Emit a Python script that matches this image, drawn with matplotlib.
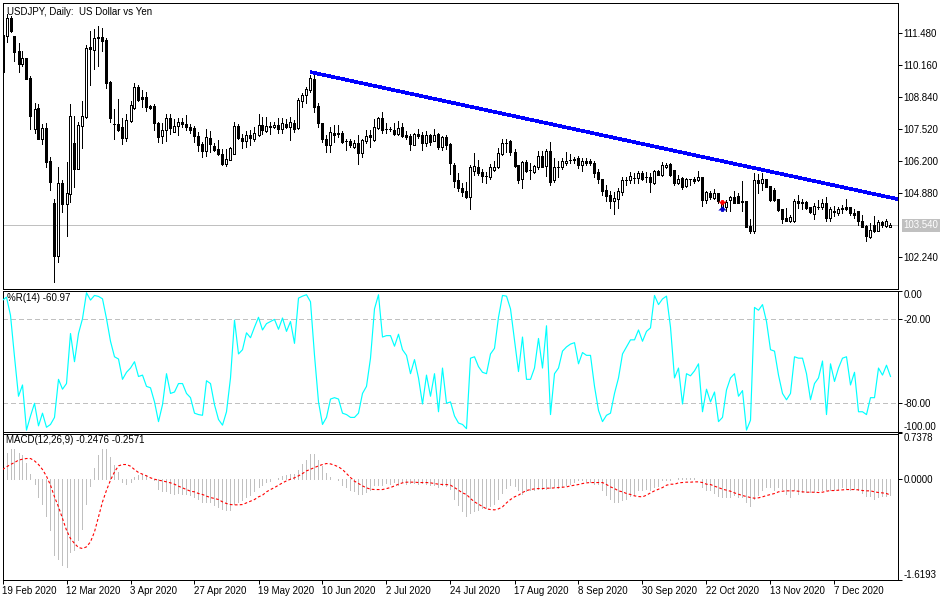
import numpy as np
import matplotlib
matplotlib.use("Agg")
import matplotlib.pyplot as plt
from matplotlib.path import Path

# USDJPY daily candles
opens = [111.40,111.36,112.10,111.36,110.74,110.20,110.45,109.62,107.52,108.39,
107.11,107.56,106.20,104.47,102.28,105.29,104.43,104.84,106.94,105.87,
107.64,108.01,110.90,110.78,111.31,111.31,111.19,109.46,107.73,107.73,
107.60,107.15,107.85,108.39,109.25,108.84,108.84,108.47,108.47,107.77,
107.23,107.48,107.97,107.39,107.64,107.81,107.73,107.60,107.56,107.23,
106.90,106.61,107.15,106.82,106.69,106.49,106.07,106.24,106.49,107.64,
107.15,107.02,107.27,107.11,107.27,107.68,107.44,107.64,107.60,107.68,
107.52,107.73,107.60,107.77,107.56,108.67,108.92,109.13,109.58,108.47,
107.77,107.11,106.86,107.35,107.35,107.35,107.02,107.02,106.78,106.94,
106.53,107.02,107.27,107.07,107.56,107.97,107.52,107.52,107.48,107.31,
107.60,107.27,107.23,106.86,107.31,107.27,106.94,107.27,107.02,107.31,
106.78,107.19,106.90,106.03,105.42,105.09,104.96,104.71,105.79,105.95,
105.75,105.58,105.54,105.83,105.95,106.49,106.94,107.02,106.57,106.03,
105.46,106.16,105.83,105.75,105.95,106.41,105.99,106.61,105.42,105.95,
105.95,106.12,106.24,106.28,106.32,106.03,106.20,106.20,106.12,105.75,
105.46,105.00,104.80,104.55,104.63,104.92,105.42,105.42,105.50,105.50,
105.70,105.54,105.54,105.29,105.79,105.62,105.95,106.07,105.83,105.29,
105.50,105.17,105.46,105.46,105.42,105.54,104.59,104.88,104.67,104.88,
104.30,104.30,104.59,104.71,104.76,104.55,104.55,103.52,103.31,105.42,
105.29,105.46,105.17,105.00,104.63,104.22,103.85,103.72,103.72,104.55,
104.51,104.51,104.30,104.01,104.30,104.30,104.47,103.85,104.14,104.05,
104.26,104.30,104.30,104.05,104.14,103.72,103.52,103.07,103.56,103.31,103.68,103.52,103.48]
highs = [111.40,112.26,112.18,111.36,111.07,110.74,110.45,109.70,108.59,108.55,
107.73,107.77,106.36,104.63,105.95,105.42,106.16,108.55,108.06,107.81,
108.67,110.98,111.56,111.64,111.77,111.69,111.27,109.50,108.34,108.76,
107.97,108.14,108.67,109.42,109.33,109.13,109.05,108.51,108.55,107.81,
107.77,108.14,108.14,107.93,107.97,107.97,108.10,107.73,107.64,107.39,
106.98,107.52,107.44,106.94,107.07,106.69,106.69,106.78,107.81,107.73,
107.31,107.44,107.48,107.60,108.14,108.01,108.01,107.81,107.81,107.97,
107.97,107.93,108.01,107.89,108.80,109.00,109.25,109.75,109.75,108.59,
107.77,107.27,107.60,107.68,107.68,107.44,107.11,107.11,107.07,107.27,
107.11,107.48,107.48,107.93,108.01,108.22,107.77,107.60,107.77,107.85,
107.77,107.44,107.31,107.35,107.52,107.39,107.44,107.31,107.52,107.35,
107.23,107.27,106.94,106.12,105.70,105.29,105.33,106.03,106.53,106.24,
105.87,105.75,106.07,106.20,106.74,107.11,107.11,107.07,106.69,106.03,
106.20,106.24,106.12,106.03,106.61,106.61,106.69,106.98,106.32,106.20,
106.32,106.57,106.49,106.36,106.41,106.32,106.32,106.28,106.20,105.87,
105.46,105.21,104.96,104.92,105.09,105.54,105.54,105.75,105.70,105.79,
105.79,105.75,105.70,105.83,105.83,106.16,106.12,106.12,105.83,105.62,
105.54,105.50,105.46,105.54,105.79,105.54,104.96,104.96,105.04,104.88,
104.51,104.59,104.76,104.96,104.88,105.37,104.55,103.81,105.70,105.66,
105.70,105.46,105.17,105.09,104.63,104.22,104.26,103.97,104.63,104.80,
104.63,104.55,104.30,104.47,104.59,104.63,104.71,104.30,104.34,104.30,
104.38,104.63,104.30,104.22,104.14,103.97,103.56,103.64,103.93,103.77,103.72,103.81,103.64]
lows = [109.87,111.11,111.52,110.32,109.87,110.12,109.58,107.52,107.35,107.11,
106.90,105.95,105.00,101.21,102.03,104.10,103.11,104.51,105.13,105.87,
106.74,107.97,109.33,109.99,110.12,110.74,109.21,107.81,107.11,107.44,
106.90,107.02,107.81,108.34,108.67,108.43,108.26,108.34,107.48,106.98,
106.94,107.02,107.31,107.39,107.27,107.60,107.48,107.35,106.98,106.61,
106.36,106.41,106.57,106.61,106.45,106.03,105.99,106.24,106.49,107.11,
106.74,106.78,106.86,107.02,107.23,107.31,107.39,107.31,107.56,107.35,
107.35,107.56,107.07,107.39,107.52,108.43,108.59,109.05,108.22,107.60,
106.98,106.57,106.57,106.98,107.19,106.94,106.65,106.78,106.74,106.07,
106.36,106.94,106.78,107.02,107.52,107.35,107.35,107.44,107.27,107.27,
107.19,107.11,106.65,106.86,107.15,106.65,106.82,106.86,107.02,106.69,
106.65,106.69,105.66,105.13,104.96,104.76,104.67,104.22,105.62,105.62,
105.33,105.29,105.46,105.79,105.91,106.45,106.57,106.45,105.95,105.29,
105.09,105.75,105.46,105.70,105.87,105.95,105.58,105.21,105.33,105.54,
105.87,106.03,106.12,106.12,105.91,105.79,106.03,106.03,105.54,105.29,
104.80,104.55,104.26,104.01,104.26,104.80,105.21,105.29,105.29,105.29,
105.42,105.33,104.92,105.25,105.62,105.58,105.91,105.58,105.21,105.25,
105.04,105.13,105.21,105.29,105.37,104.34,104.47,104.63,104.63,104.47,
104.30,104.14,104.14,104.47,104.47,104.14,103.48,103.23,103.23,104.88,
105.00,105.13,104.55,104.55,104.14,103.64,103.72,103.68,103.68,104.26,
104.22,104.22,104.05,103.81,104.22,104.22,103.72,103.72,103.93,103.97,
104.05,104.18,103.97,103.85,103.56,103.48,102.90,103.02,103.27,103.31,103.48,103.48,103.48]
closes = [109.87,112.10,111.56,110.69,110.20,110.45,109.58,108.06,108.34,107.11,
107.56,106.16,105.33,102.28,105.29,104.43,104.88,108.06,105.87,107.68,
108.06,110.86,110.82,111.27,111.27,111.15,109.42,107.97,107.73,107.48,
107.15,107.89,108.51,109.25,108.72,108.76,108.43,108.39,107.77,107.19,
107.48,107.97,107.56,107.64,107.81,107.73,107.60,107.48,107.23,106.86,
106.61,107.19,106.90,106.65,106.49,106.07,106.28,106.74,107.64,107.15,
107.02,107.27,107.15,107.35,107.68,107.48,107.64,107.60,107.68,107.52,
107.77,107.60,107.81,107.52,108.72,108.92,109.17,109.62,108.43,107.77,
107.11,106.86,107.39,107.27,107.31,106.98,107.02,106.86,106.94,106.53,
107.07,107.23,107.19,107.60,107.97,107.48,107.52,107.52,107.31,107.56,
107.23,107.19,106.90,107.31,107.23,106.94,107.27,106.98,107.27,106.78,
107.19,106.86,106.12,105.37,105.09,104.92,104.71,105.95,105.99,105.70,
105.58,105.58,105.95,105.95,106.53,106.94,106.94,106.57,105.99,105.42,
106.16,105.79,105.83,105.99,106.41,105.95,106.61,105.33,105.95,105.95,
106.20,106.20,106.24,106.24,106.03,106.20,106.12,106.12,105.70,105.46,
104.96,104.76,104.55,104.67,104.96,105.42,105.42,105.58,105.50,105.70,
105.46,105.54,105.33,105.79,105.62,106.03,106.03,105.62,105.29,105.46,
105.13,105.46,105.46,105.37,105.54,104.59,104.92,104.71,104.88,104.55,
104.43,104.51,104.71,104.47,104.47,104.51,103.48,103.31,105.42,105.29,
105.46,105.13,104.59,104.59,104.18,103.81,103.72,103.89,104.55,104.47,
104.47,104.26,104.10,104.34,104.30,104.47,103.85,104.22,104.10,104.22,
104.22,104.22,104.05,103.97,103.72,103.48,103.11,103.35,103.31,103.68,103.56,103.72,103.56]

# Williams %R(14)
wpr = [-7,-4.7,-17.6,-47,-75,-67,-99,-89,-80,-96,
-87,-97,-95,-90,-63,-70,-66,-30.5,-50.5,-30.5,
-20,-1.6,-6.8,-3.5,-4.2,-5.9,-20,-36,-47,-48.6,
-63,-58,-55,-50.5,-61,-60,-68,-69,-79,-93,
-81,-59,-73,-72,-66,-66,-73,-76,-87,-88,
-88.5,-64,-66,-81,-91.5,-95.5,-86,-62,-21,-45,
-42,-30,-33.5,-26,-19,-28,-23.5,-22,-20.5,-27.5,
-19.5,-29,-22,-37.5,-5.4,-4,-3,-8,-46,-79,
-95,-90,-77,-76,-77,-87,-88,-90,-90,-87,
-73,-68,-48,-13,-3,-33,-32,-32,-39.5,-31,
-42,-46,-59,-49,-62,-80.5,-60,-75,-59,-86,
-55,-80,-79,-89,-94,-95,-98,-48,-47,-54,
-58,-59,-45,-41,-19,-3.5,-4,-13,-35,-57.5,
-33,-63,-63,-55,-34,-55,-25,-88,-59,-55,
-43,-40,-38,-37,-52,-44,-46,-46,-68,-85,
-93,-88.5,-87,-73,-62,-45,-40,-35,-35,-28,
-36,-29,-26.5,-3.5,-10,-6,-4,-26,-62,-55,
-80.5,-59,-60.5,-57,-52,-86,-70,-79,-72,-93,
-90,-70.5,-62,-59,-75,-71,-99,-92,-12,-14,
-10,-22,-42,-43,-60,-73,-77.5,-73,-47,-48,
-48,-59,-77.5,-66,-62,-50,-88,-52,-64.5,-55,
-48,-47,-67,-58,-86,-86,-88,-76,-76,-55,-60,-53,-60.97]

# MACD histogram and signal line
macd_hist = [.38,.425,.495,.495,.425,.387,.269,.091,-.070,-.285,
-.404,-.597,-.823,-1.227,-1.291,-1.388,-1.415,-1.173,-1.146,-.974,
-.796,-.404,-.113,.183,.387,.495,.495,.360,.226,.118,
-.043,-.070,-.043,.038,.065,.091,.065,.011,-.016,-.151,
-.194,-.194,-.221,-.231,-.221,-.231,-.242,-.258,-.285,-.323,
-.366,-.366,-.366,-.420,-.447,-.484,-.500,-.490,-.404,-.366,
-.328,-.285,-.258,-.194,-.124,-.086,-.043,-.027,0,.022,
.048,.065,.081,.091,.156,.253,.317,.414,.404,.307,
.215,.102,.038,.011,-.016,-.097,-.124,-.178,-.194,-.231,
-.231,-.204,-.167,-.097,-.097,-.097,-.059,-.070,-.043,-.086,
-.043,-.070,-.054,-.059,-.070,-.059,-.070,-.097,-.097,-.124,
-.086,-.113,-.151,-.312,-.420,-.516,-.592,-.543,-.516,-.490,
-.473,-.457,-.436,-.404,-.323,-.221,-.135,-.097,-.113,-.178,
-.231,-.194,-.167,-.178,-.151,-.161,-.151,-.135,-.124,-.135,
-.124,-.097,-.070,-.043,-.016,-.016,-.027,-.043,-.070,-.070,
-.178,-.258,-.323,-.366,-.366,-.339,-.312,-.269,-.258,-.178,
-.178,-.151,-.167,-.124,-.113,-.016,-.016,-.005,.011,.022,
.022,.022,.022,.022,.011,-.124,-.167,-.167,-.221,-.274,
-.285,-.285,-.285,-.258,-.285,-.285,-.366,-.436,-.312,-.258,
-.178,-.124,-.124,-.178,-.124,-.151,-.231,-.285,-.178,-.231,
-.204,-.204,-.204,-.204,-.178,-.167,-.167,-.178,-.167,-.151,
-.124,-.151,-.167,-.151,-.167,-.221,-.274,-.274,-.312,-.285,-.274,-.274,-.2476]
macd_signal = [.156,.199,.237,.269,.307,.323,.334,.334,.296,.237,
.156,.048,-.097,-.285,-.447,-.635,-.823,-.958,-1.038,-1.103,
-1.119,-1.092,-1.011,-.850,-.608,-.366,-.178,-.016,.118,.215,
.237,.237,.210,.156,.108,.081,.054,.022,0,-.016,
-.027,-.043,-.059,-.081,-.113,-.140,-.167,-.194,-.204,-.231,
-.247,-.274,-.296,-.312,-.328,-.366,-.393,-.409,-.414,-.414,
-.409,-.382,-.355,-.328,-.285,-.258,-.204,-.167,-.135,-.097,
-.059,-.027,0,.022,.054,.091,.134,.161,.188,.215,
.237,.253,.247,.226,.199,.156,.091,.027,-.032,-.070,
-.108,-.140,-.161,-.167,-.167,-.167,-.151,-.135,-.108,-.081,
-.059,-.048,-.048,-.048,-.054,-.054,-.054,-.059,-.070,-.081,
-.086,-.086,-.097,-.135,-.178,-.221,-.247,-.312,-.366,-.404,
-.441,-.479,-.490,-.495,-.479,-.447,-.382,-.328,-.285,-.258,
-.215,-.183,-.167,-.156,-.151,-.151,-.145,-.145,-.140,-.135,
-.129,-.124,-.108,-.097,-.086,-.070,-.059,-.054,-.054,-.054,
-.054,-.086,-.124,-.151,-.188,-.204,-.231,-.247,-.269,-.280,
-.285,-.258,-.221,-.188,-.161,-.135,-.097,-.081,-.081,-.059,
-.054,-.048,-.048,-.043,-.043,-.054,-.081,-.086,-.113,-.135,
-.161,-.178,-.194,-.221,-.242,-.264,-.280,-.296,-.307,-.301,
-.285,-.264,-.247,-.231,-.204,-.194,-.188,-.188,-.188,-.194,
-.204,-.210,-.210,-.210,-.215,-.210,-.194,-.183,-.183,-.178,
-.172,-.167,-.167,-.167,-.172,-.183,-.188,-.188,-.204,-.215,-.221,-.231,-.2571]

date_labels = ["19 Feb 2020","12 Mar 2020","3 Apr 2020","27 Apr 2020","19 May 2020",
               "10 Jun 2020","2 Jul 2020","24 Jul 2020","17 Aug 2020","8 Sep 2020",
               "30 Sep 2020","22 Oct 2020","13 Nov 2020","7 Dec 2020"]
date_ticks = list(range(0, 209, 16))
price_ticks = [111.48,110.16,108.84,107.52,106.20,104.88,102.24]
last_price = 103.54
trend_bars = [77, 223.75]
trend_prices = [109.87, 104.63]
signal_bar = 180
sell_price = 104.55
buy_price = 104.18

plt.rcParams['font.family'] = ['Liberation Sans', 'DejaVu Sans']
plt.rcParams['font.size'] = 7.0
plt.rcParams['lines.scale_dashes'] = False
PX = 0.72  # one pixel in points at dpi 100

W, H = 950, 600
fig = plt.figure(figsize=(W/100, H/100), dpi=100, facecolor="white")

def pane(top, bottom):
    ax = fig.add_axes([2.5/W, 1-bottom/H, 895/W, (bottom-top)/H])
    ax.set_xlim(0, 223.75)
    for s in ax.spines.values():
        s.set_linewidth(PX)
        s.set_color("black")
    ax.yaxis.tick_right()
    ax.tick_params(axis="y", length=3, width=PX, pad=1.5, labelsize=7.0)
    ax.set_xticks([])
    return ax

ax1 = pane(2.5, 288.5)
ax2 = pane(290.5, 431.5)
ax3 = pane(433.5, 579.5)

# price pane
ax1.set_ylim(100.94, 112.74)
x = np.arange(len(opens))
o, h, l, c = map(np.array, (opens, highs, lows, closes))
ax1.axhline(last_price, color="#c0c0c0", lw=PX, antialiased=False, zorder=1)
ax1.vlines(x, l, h, color="black", lw=PX, antialiased=False, zorder=2)
up = c > o
ax1.bar(x, np.abs(c-o), bottom=np.minimum(o, c), width=0.5,
        color=np.where(up, "white", "black").tolist(), edgecolor="black",
        linewidth=PX, antialiased=False, zorder=3)
ax1.plot(trend_bars, trend_prices, color="#0000ff", lw=2.6*PX, antialiased=False,
         solid_capstyle="butt", zorder=4)

down_arrow = Path([(-1,1),(1,1),(1,0),(3,0),(0,-3),(-3,0),(-1,0),(-1,1)], closed=True)
up_arrow = Path([(-1,-1),(1,-1),(1,0),(3,0),(0,3),(-3,0),(-1,0),(-1,-1)], closed=True)
ax1.plot([signal_bar], [sell_price], marker=down_arrow, ms=6, color="#ff0000", mew=0, zorder=5)
ax1.plot([signal_bar], [buy_price], marker=up_arrow, ms=6, color="#0000cd", mew=0, zorder=5)

ax1.set_yticks(price_ticks)
ax1.set_yticklabels(["%.3f" % p for p in price_ticks])
ax1.text(0.0045, 0.9835, "USDJPY, Daily:  US Dollar vs Yen", transform=ax1.transAxes, va="top", ha="left")
ax1.annotate("%.3f" % last_price, xy=(1, last_price), xycoords=("axes fraction", "data"),
             xytext=(6, 0), textcoords="offset pixels", color="white", va="center", ha="left",
             bbox=dict(boxstyle="square,pad=0.15", fc="#c0c0c0", ec="none"), annotation_clip=False)

# %R pane
ax2.set_ylim(-100, 0)
ax2.plot(x, wpr, color="#00ffff", lw=0.85, zorder=3)
for level in (-20, -80):
    ax2.axhline(level, color="#c0c0c0", lw=PX, ls=(0, (3, 2.2)), antialiased=False, zorder=1)
ax2.set_yticks([0, -20, -80, -100])
ax2.set_yticklabels(["0.00", "-20.00", "-80.00", "-100.00"])
ax2.get_yticklabels()[0].set_va("top")
ax2.get_yticklabels()[3].set_va("bottom")
ax2.text(0.0045, 0.985, "%R(14) -60.97", transform=ax2.transAxes, va="top", ha="left", zorder=4)

# MACD pane
ax3.set_ylim(-1.6193, 0.7378)
ax3.vlines(x, 0, macd_hist, color="#c0c0c0", lw=PX, antialiased=False, zorder=1)
ax3.plot(x, macd_signal, color="#ff0000", lw=0.8, ls=(0, (2.0, 1.6)), zorder=3)
ax3.set_yticks([0.7378, 0, -1.6193])
ax3.set_yticklabels(["0.7378", "0.0000", "-1.6193"])
ax3.get_yticklabels()[0].set_va("top")
ax3.get_yticklabels()[2].set_va("bottom")
ax3.text(0.0035, 0.99, "MACD(12,26,9) -0.2476 -0.2571", transform=ax3.transAxes, va="top", ha="left")

ax3.set_xticks(date_ticks)
ax3.set_xticklabels(date_labels, ha="left")
ax3.tick_params(axis="x", length=3, width=PX, pad=1.5, labelsize=7.0)

fig.savefig("out.png", dpi=100, facecolor="white")
